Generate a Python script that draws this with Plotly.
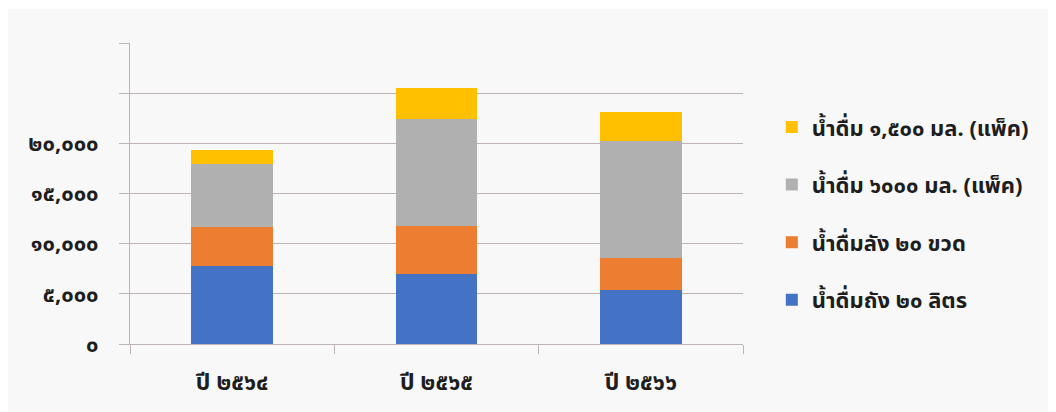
import plotly.graph_objects as go

categories = ["ปี ๒๕๖๔", "ปี ๒๕๖๕", "ปี ๒๕๖๖"]
series_names = ["น้ำดื่มถัง ๒๐ ลิตร", "น้ำดื่มลัง ๒๐ ขวด", "น้ำดื่ม ๖๐๐๐ มล. (แพ็ค)", "น้ำดื่ม ๑,๕๐๐ มล. (แพ็ค)"]
tank_20l = [7800, 7000, 5400]
case_20 = [3850, 4750, 3200]
pack_6000 = [6250, 10650, 11650]
pack_1500 = [1450, 3150, 2900]
tick_vals = [0, 5000, 10000, 15000, 20000, 25000, 30000]
tick_text = ["๐", "๕,๐๐๐", "๑๐,๐๐๐", "๑๕,๐๐๐", "๒๐,๐๐๐", "", ""]

colors = ["#4472C4", "#ED7D31", "#B0B0B0", "#FFC000"]
values = [tank_20l, case_20, pack_6000, pack_1500]

FONT = "Noto Sans, Noto Sans Thai, Loma, sans-serif"
TXT = "#1E1E1E"

fig = go.Figure()
for i, (name, vals, col) in enumerate(zip(series_names, values, colors)):
    fig.add_trace(go.Bar(
        x=categories, y=vals, name=name, marker=dict(color=col, line=dict(width=0)),
        legendgroup=f"g{i}", legendrank=10 - i,
    ))

grid = "#BDB3B3"
fig.update_layout(
    width=1056, height=412,
    barmode="stack", bargap=0.6,
    paper_bgcolor="white", plot_bgcolor="#FCFCFC",
    margin=dict(l=122, r=321, t=35, b=76),
    font=dict(family=FONT, size=16, color=TXT, weight="bold"),
    showlegend=True,
    legend=dict(
        x=1.047, y=0.79, xanchor="left", yanchor="top",
        traceorder="grouped", tracegroupgap=26,
        font=dict(size=22, color=TXT, family=FONT, weight="bold"),
        bgcolor="rgba(0,0,0,0)",
    ),
    shapes=[dict(type="rect", xref="paper", yref="paper", layer="below",
                 x0=-0.202, x1=1.50, y0=-0.226, y1=1.113,
                 fillcolor="#F8F8F8", line=dict(width=0))],
)
fig.update_yaxes(
    range=[0, 30000], tickvals=tick_vals, ticktext=tick_text,
    showgrid=True, gridcolor=grid, gridwidth=1,
    showline=True, linecolor=grid, linewidth=1,
    ticks="outside", ticklen=10, tickcolor=grid,
    ticklabelstandoff=16,
    tickfont=dict(size=22, family=FONT, color=TXT, weight="bold"),
    zeroline=False,
)
fig.update_xaxes(
    showline=True, linecolor=grid, linewidth=1,
    ticks="outside", tickson="boundaries", ticklen=9, tickcolor=grid,
    tickfont=dict(size=23, family=FONT, color=TXT, weight="bold"),
    ticklabelstandoff=17,
)
fig.write_html("out.html")
